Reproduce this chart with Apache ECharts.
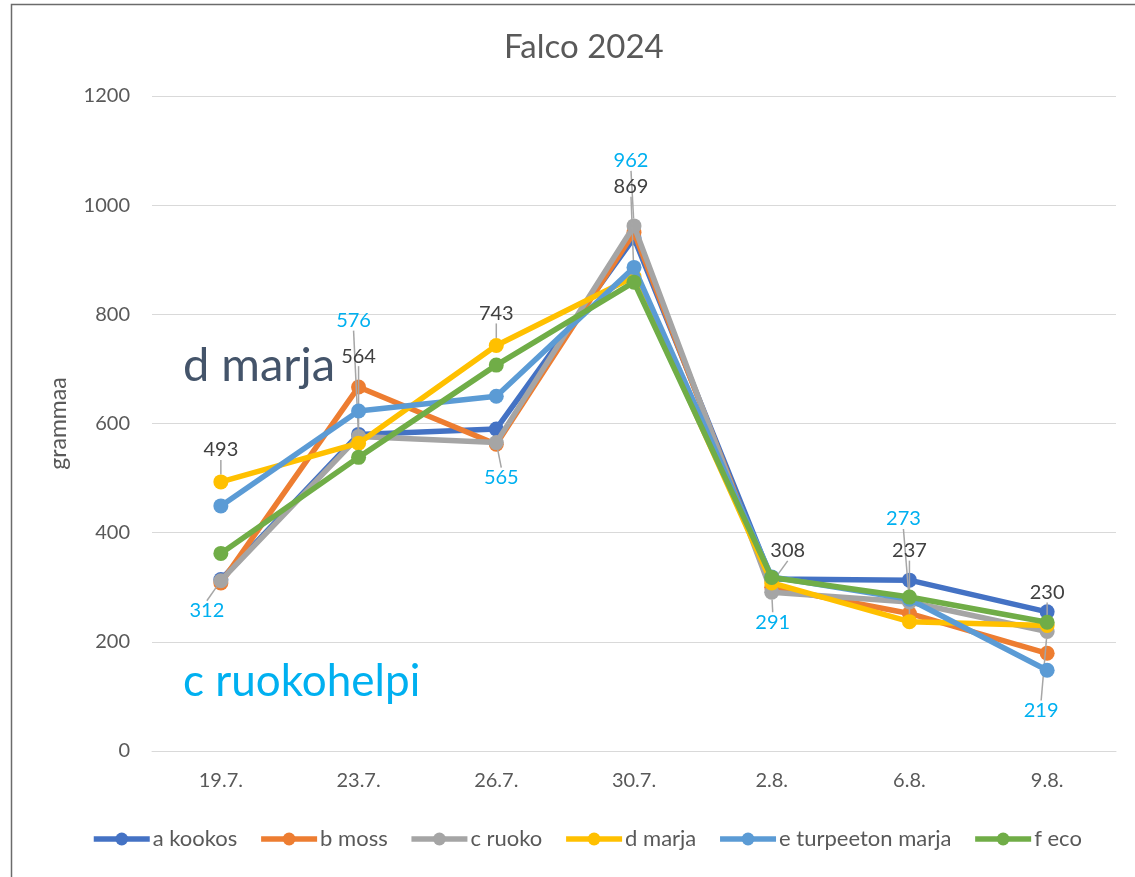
<!DOCTYPE html>
<html>
<head>
<meta charset="utf-8">
<script src="https://cdn.jsdelivr.net/npm/echarts@6/dist/echarts.min.js"></script>
<style>
html, body { margin: 0; padding: 0; background: #fff; }
#chart { width: 1135px; height: 877px; }
</style>
</head>
<body>
<div id="chart"></div>
<script>
var dates = ['19.7.', '23.7.', '26.7.', '30.7.', '2.8.', '6.8.', '9.8.'];
var types = ['a kookos', 'b moss', 'c ruoko', 'd marja', 'e turpeeton marja', 'f eco'];
var colors = ['#4472c4', '#ed7d31', '#a5a5a5', '#ffc000', '#5b9bd5', '#70ad47'];

var a_kookos = [314, 580, 590, 940, 315, 313, 255];
var b_moss = [308, 667, 562, 950, 300, 252, 179];
var c_ruoko = [312, 576, 565, 962, 291, 273, 219];
var d_marja = [493, 564, 743, 869, 308, 237, 230];
var e_turpeeton = [449, 623, 650, 886, 319, 278, 148];
var f_eco = [362, 538, 707, 859, 318, 282, 236];
var values = [a_kookos, b_moss, c_ruoko, d_marja, e_turpeeton, f_eco];

// label offsets (px) from the point, for the two labelled series
var c_label_offsets = [[-14, 30], [-5, -116], [5, 35], [-3, -65], [1, 30], [-6, -83], [-6, 79]];
var d_label_offsets = [[0, -32], [0, -87], [0, -32], [-3, -90], [16, -32], [0, -71], [0, -33]];

var font = 'Lato, "Open Sans", sans-serif';
var chart = echarts.init(document.getElementById('chart'));

var option = {
    animation: false,
    textStyle: { fontFamily: font },
    title: {
        text: 'Falco 2024',
        left: 499,
        top: 26,
        textStyle: { fontSize: 33, fontWeight: 'normal', color: '#595959', fontFamily: font }
    },
    legend: {
        data: types,
        bottom: 22,
        left: 86,
        itemWidth: 56,
        itemHeight: 16,
        itemGap: 21,
        lineStyle: { width: 5.5 },
        textStyle: { fontSize: 22, color: '#595959', fontFamily: font, padding: [0, 0, 0, -2] }
    },
    grid: { left: 152, right: 19, top: 96, bottom: 126 },
    xAxis: {
        type: 'category',
        data: dates,
        axisLine: { lineStyle: { color: '#d9d9d9' } },
        axisTick: { show: false },
        axisLabel: { fontSize: 20, color: '#595959', margin: 20 }
    },
    yAxis: {
        type: 'value',
        min: 0,
        max: 1200,
        interval: 200,
        name: 'grammaa',
        nameLocation: 'middle',
        nameGap: 82,
        nameTextStyle: { fontSize: 23, color: '#595959', fontFamily: font },
        splitLine: { lineStyle: { color: '#d9d9d9', width: 1 } },
        axisLabel: {
            fontSize: 20,
            color: '#595959',
            margin: 22,
            formatter: function (v) { return String(v); }
        }
    },
    graphic: [
        { type: 'rect', left: 9, top: 2, shape: { width: 1200, height: 900 }, style: { fill: 'none', stroke: '#6b6b6b', lineWidth: 1.5 }, silent: true },
        { type: 'text', left: 183, top: 342, style: { text: 'd marja', fill: '#44546a', font: '47px ' + font } },
        { type: 'text', left: 183, top: 660, style: { text: 'c ruokohelpi', fill: '#00b0f0', font: '44px ' + font } }
    ],
    series: []
};

function make_layout(offsets) {
    return function (params) {
        var o = offsets[params.dataIndex];
        return { dx: o[0], dy: o[1] };
    };
}

for (var i = 0; i < types.length; i++) {
    option['series'].push({
        name: types[i],
        type: 'line',
        data: values[i],
        color: colors[i],
        symbol: 'circle',
        symbolSize: 15,
        lineStyle: { width: 5.5, color: colors[i] },
        itemStyle: { color: colors[i] },
        z: 2 + i
    });
}

// data labels with leader lines
option['series'][2]['label'] = { show: true, position: 'inside', fontSize: 20, color: '#00b0f0', fontFamily: font };
option['series'][2]['labelLayout'] = make_layout(c_label_offsets);
option['series'][2]['labelLine'] = { show: true, lineStyle: { color: '#a6a6a6', width: 1.5 } };
option['series'][3]['label'] = { show: true, position: 'inside', fontSize: 20, color: '#404040', fontFamily: font };
option['series'][3]['labelLayout'] = make_layout(d_label_offsets);
option['series'][3]['labelLine'] = { show: true, lineStyle: { color: '#a6a6a6', width: 1.5 } };

chart.setOption(option);
</script>
</body>
</html>
